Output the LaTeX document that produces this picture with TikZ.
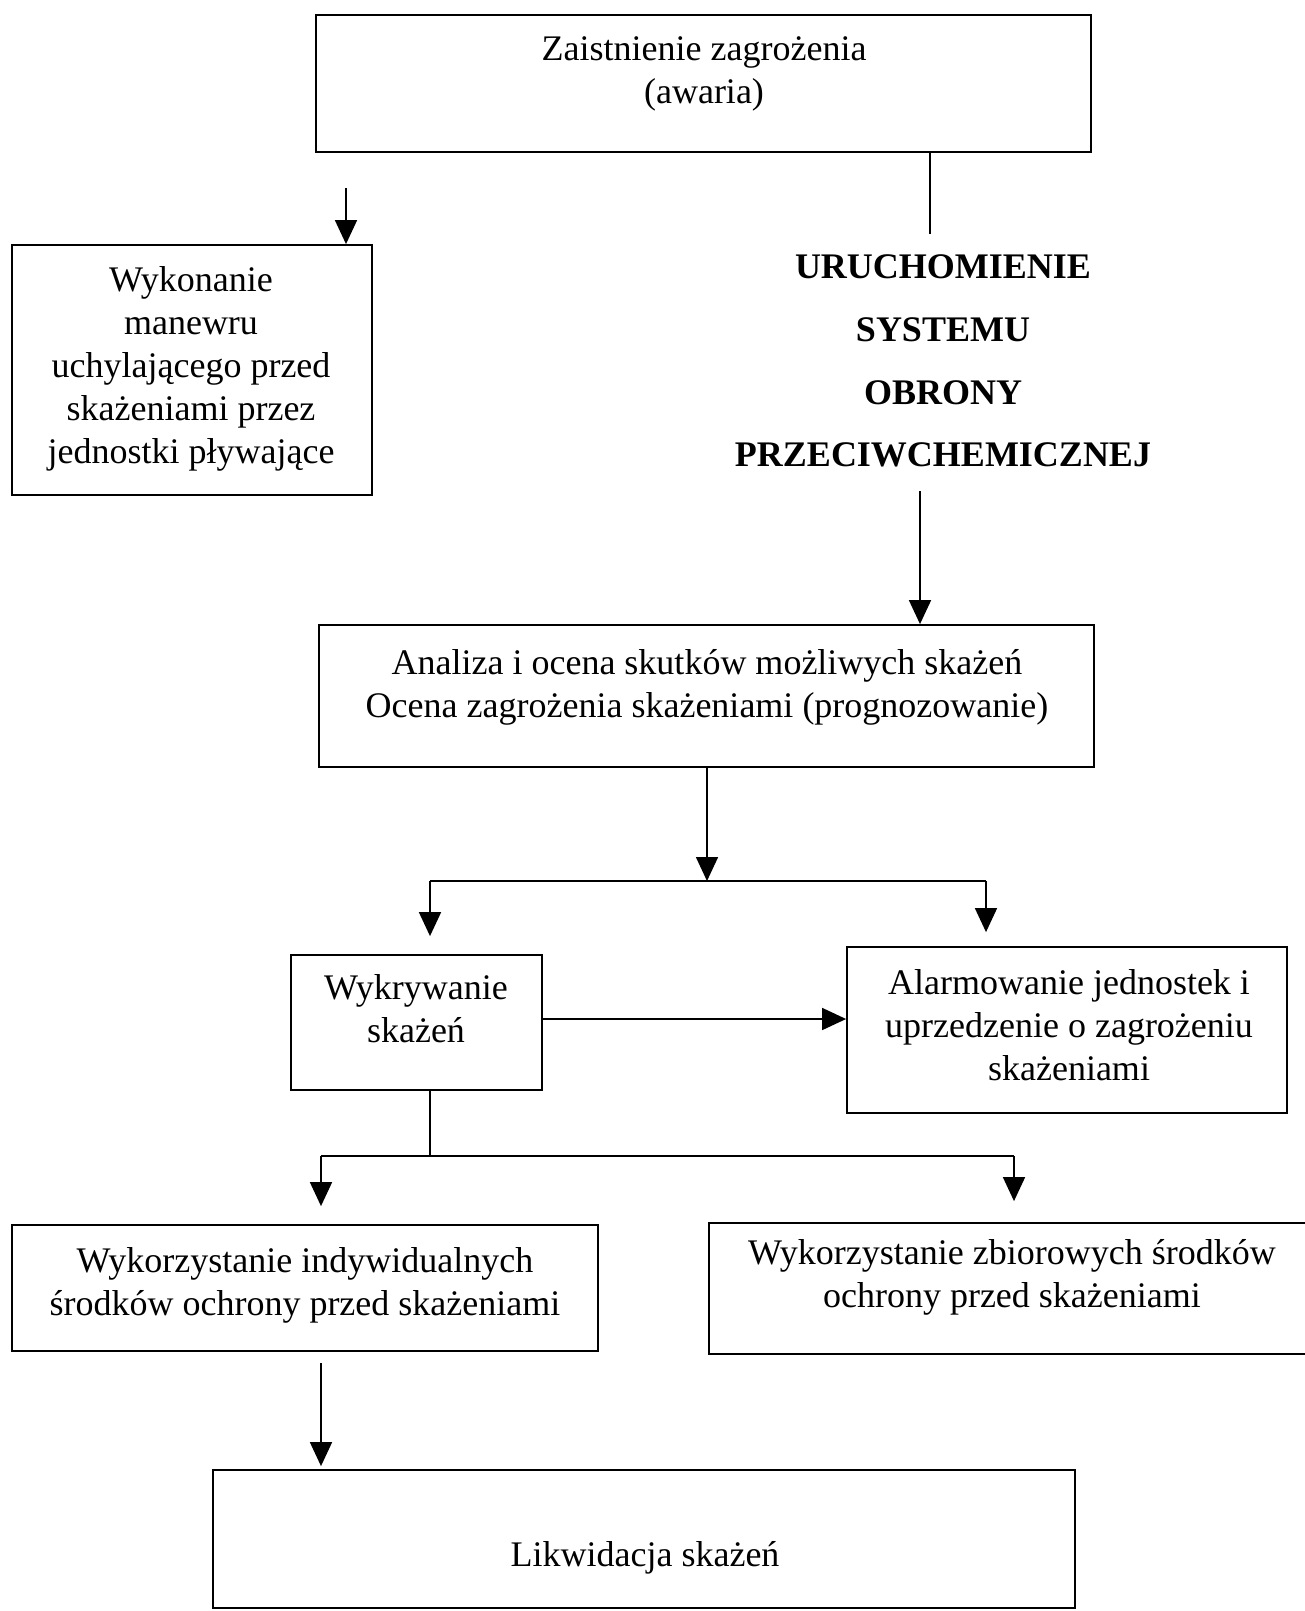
\documentclass[tikz,border=0pt]{standalone}
\usepackage{fontspec}
\setmainfont{Liberation Serif}
\usepackage{tikz}
\usetikzlibrary{calc}
\usetikzlibrary{arrows.meta}

\begin{document}
\begin{tikzpicture}[x=1pt, y=-1pt,
    caja/.style={draw, line width=1.8pt, inner sep=0pt},
    texto/.style={align=center, font=\fontsize{36}{43}\selectfont},
    flecha/.style={line width=1.6pt, arrows=-{Triangle[length=24pt,width=22pt]}}]
  \useasboundingbox (0,0) rectangle (1305,1611);
  % cajas
  \node [caja, minimum width=775, minimum height=137] (zagrozenie) at (703.5,83.5) {};
  \node [texto] (zagrozenie-t) at (704,74) {Zaistnienie zagrożenia\\(awaria)};
  \node [caja, minimum width=360, minimum height=250] (manewr) at (192,370) {};
  \node [texto] (manewr-t) at (191,369) {Wykonanie\\manewru\\uchylającego przed\\skażeniami przez\\jednostki pływające};
  \node [texto, font=\fontsize{36}{62.7}\selectfont\bfseries, inner sep=20pt] (uruchomienie) at (943,361)
    {URUCHOMIENIE\\SYSTEMU\\OBRONY\\PRZECIWCHEMICZNEJ};
  \node [caja, minimum width=775, minimum height=142] (analiza) at (706.5,696) {};
  \node [texto] (analiza-t) at (707,687) {Analiza i ocena skutków możliwych skażeń\\Ocena zagrożenia skażeniami (prognozowanie)};
  \node [caja, minimum width=251, minimum height=135] (wykrywanie) at (416.5,1022.5) {};
  \node [texto] (wykrywanie-t) at (416,1009) {Wykrywanie\\skażeń};
  \node [caja, minimum width=440, minimum height=166] (alarmowanie) at (1067,1030) {};
  \node [texto] (alarmowanie-t) at (1069,1025) {Alarmowanie jednostek i\\uprzedzenie o zagrożeniu\\skażeniami};
  \node [caja, minimum width=586, minimum height=126] (indywidualne) at (305,1288) {};
  \node [texto] (indywidualne-t) at (305,1285) {Wykorzystanie indywidualnych\\środków ochrony przed skażeniami};
  \node [caja, minimum width=601, minimum height=131] (zbiorowe) at (1009.5,1288.5) {};
  \node [texto] (zbiorowe-t) at (1012,1277) {Wykorzystanie zbiorowych środków\\ochrony przed skażeniami};
  \node [caja, minimum width=862, minimum height=138] (likwidacja) at (644,1539) {};
  \node [texto] (likwidacja-t) at (645,1557.5) {Likwidacja skażeń};
  % puntos de las ramas
  \coordinate (s0) at (346,188);
  \coordinate (k1) at (930,234);
  \coordinate (k2) at (920,491);
  \coordinate (r1) at (707,881);
  \coordinate (r2) at (430,881);
  \coordinate (r3) at (986,881);
  \coordinate (r4) at (430,1156);
  \coordinate (r5) at (321,1156);
  \coordinate (r6) at (1014,1156);
  \coordinate (r7) at (542,1019);
  % conexiones
  \draw [flecha] (s0) -- (s0 |- manewr.north); % flecha suelta
  \draw [line width=1.6pt] (zagrozenie.south -| k1) -- (k1);
  \draw [flecha] (k2) -- (analiza.north -| k2);
  \draw [flecha] (analiza.south -| r1) -- (r1);
  \draw [line width=1.6pt] (r2) -- (r3);
  \draw [flecha, shorten >=18pt] (r2) -- (wykrywanie.north -| r2);
  \draw [flecha, shorten >=14pt] (r3) -- (alarmowanie.north -| r3);
  \draw [flecha] (wykrywanie.east |- r7) -- (alarmowanie.west |- r7);
  \draw [line width=1.6pt] (wykrywanie.south -| r4) -- (r4);
  \draw [line width=1.6pt] (r5) -- (r6);
  \draw [flecha, shorten >=18pt] (r5) -- (indywidualne.north -| r5);
  \draw [flecha, shorten >=21pt] (r6) -- (zbiorowe.north -| r6);
  \draw [flecha, shorten <=11pt, shorten >=3pt] (indywidualne.south -| r5) -- (likwidacja.north -| r5);
\end{tikzpicture}
\end{document}
